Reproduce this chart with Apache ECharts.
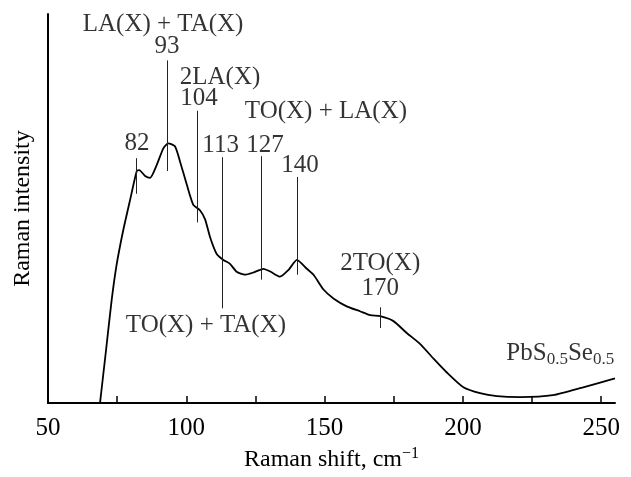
<!DOCTYPE html>
<html>
<head>
<meta charset="utf-8">
<script src="https://cdn.jsdelivr.net/npm/echarts@6/dist/echarts.min.js"></script>
<style>
  html, body { margin: 0; padding: 0; background: #fff; }
  #chart { width: 631px; height: 477px; }
</style>
</head>
<body>
<div id="chart"></div>
<script>
// spectrum (arbitrary intensity units)
var shift = [68.8, 71.0, 73.0, 74.8, 77.2, 79.7, 82.1, 83.0, 85.1, 86.9, 89.3, 91.7, 93.5, 95.9, 97.7,
  100.2, 102.5, 105.0, 106.8, 108.6, 111.0, 113.4, 115.8, 118.2, 121.2, 124.0, 127.9, 130.5,
  133.9, 137.0, 140.0, 143.6, 146.0, 149.6, 153.2, 158.0, 162.8, 166.5, 170.1, 174.9, 179.7,
  184.5, 189.4, 194.2, 200.2, 206.2, 212.3, 220.7, 232.6, 243.5, 255.0];
var intensity = [0, 54, 104, 140, 175, 206, 235, 236, 230, 228, 241, 258, 263, 260, 245,
  221, 201, 195, 186, 168, 151, 145, 141, 133, 130, 132, 136, 133,
  128, 135, 145, 136, 130, 115, 106, 98, 93, 89, 88, 83, 71,
  60, 45, 31, 16, 10, 7, 6, 8, 16, 25];

// peak markers: position, line top, line bottom
var peakPos = [82, 93, 104, 113, 127, 140, 170];
var peakTop = [248, 347, 296, 249, 250, 229, 97];
var peakBottom = [212, 235, 183, 96, 125, 130, 76];

// annotation texts and where they sit
var noteText = ['LA(X) + TA(X)', '93', '2LA(X)', '104', 'TO(X) + LA(X)', '82', '113', '127',
  '140', 'TO(X) + TA(X)', '2TO(X)', '170', '{n|PbS}{s|0.5}{n|Se}{s|0.5}'];
var noteX = [91.6, 93, 112.2, 104.6, 150.5, 82.2, 112.4, 128.5, 141.1, 107.1, 170.1, 170.1, 235.2];
var noteY = [383, 361, 330, 309, 295, 263, 261, 261, 241, 79, 141, 116, 50];

var xTicks = [50, 75, 100, 125, 150, 175, 200, 225, 250];
var xLabels = [50, 100, 150, 200, 250];

var font = 'Liberation Serif';

var curve = shift.map(function (x, i) { return [x, intensity[i]]; });
var peakLines = peakPos.map(function (x, i) {
  return [{ coord: [x, peakTop[i]] }, { coord: [x, peakBottom[i]] }];
});
var notes = noteText.map(function (t, i) {
  return { name: t, value: [noteX[i], noteY[i]] };
});

var chart = echarts.init(document.getElementById('chart'));
chart.setOption({
  animation: false,
  grid: { left: 48, right: 16, top: 14, bottom: 69 },
  xAxis: {
    type: 'value',
    min: 50,
    max: 255,
    name: 'Raman shift, cm{sup|\u22121}',
    nameLocation: 'middle',
    nameGap: 39,
    nameTextStyle: {
      fontFamily: font, fontSize: 24, color: '#000',
      rich: { sup: { fontFamily: font, fontSize: 16, color: '#000', padding: [0, 0, 12, 0] } }
    },
    axisLine: { lineStyle: { color: '#000', width: 2 } },
    axisTick: { inside: true, length: 7, customValues: xTicks, lineStyle: { color: '#000', width: 1.5 } },
    axisLabel: { customValues: xLabels, margin: 13, fontFamily: font, fontSize: 25, color: '#000' },
    splitLine: { show: false }
  },
  yAxis: {
    type: 'value',
    min: 0,
    max: 394,
    name: 'Raman intensity',
    nameLocation: 'middle',
    nameGap: 13,
    nameTextStyle: { fontFamily: font, fontSize: 24, color: '#000' },
    axisLine: { show: true, lineStyle: { color: '#000', width: 2 } },
    axisTick: { show: false },
    axisLabel: { show: false },
    splitLine: { show: false }
  },
  series: [
    {
      type: 'line',
      data: curve,
      smooth: 0.2,
      symbol: 'none',
      lineStyle: { color: '#000', width: 1.8 },
      markLine: {
        silent: true,
        symbol: 'none',
        label: { show: false },
        lineStyle: { color: '#222', width: 1, type: 'solid' },
        data: peakLines
      },
      z: 3
    },
    {
      type: 'scatter',
      data: notes,
      symbolSize: 0,
      silent: true,
      label: {
        show: true,
        position: [0, 0],
        align: 'center',
        verticalAlign: 'middle',
        formatter: function (p) { return p.name; },
        fontFamily: font,
        fontSize: 25,
        color: '#000',
        rich: {
          n: { fontFamily: font, fontSize: 25, color: '#000' },
          s: { fontFamily: font, fontSize: 17, color: '#000', padding: [12, 0, 0, 0] }
        }
      }
    }
  ]
});
</script>
</body>
</html>
